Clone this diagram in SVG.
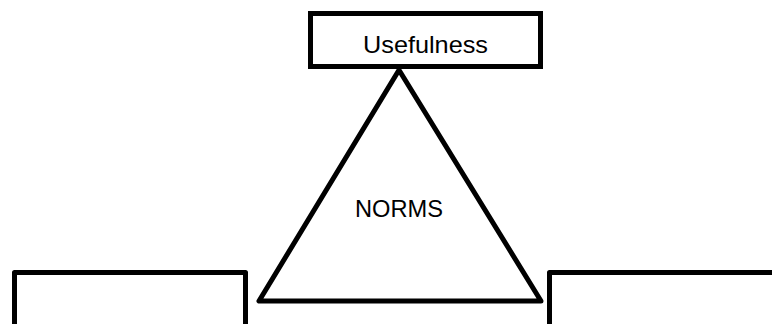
<svg xmlns="http://www.w3.org/2000/svg" width="772" height="324" viewBox="0 0 772 324">
<style>
.shape{fill:none;stroke:#000;stroke-width:5}
.lbl{font-family:"Liberation Sans",Arial,sans-serif;font-size:24px;fill:#000;text-anchor:middle}
</style>
<rect width="772" height="324" fill="#fff"/>
<g id="norms">
<polygon class="shape" points="399,70 259,301 541,301" stroke-linejoin="round"/>
<text class="lbl" x="399" y="217" textLength="88" lengthAdjust="spacingAndGlyphs">NORMS</text>
</g>
<g id="usefulness">
<rect class="shape" x="310.5" y="13.5" width="230" height="53" fill="#fff" style="fill:#fff"/>
<text class="lbl" x="425.5" y="53" textLength="125" lengthAdjust="spacingAndGlyphs">Usefulness</text>
</g>
<g id="left-box">
<path class="shape" d="M14.5,330 V272.5 H245.5 V330" stroke-linejoin="round"/>
</g>
<g id="right-box">
<path class="shape" d="M549.5,330 V272.5 H780" stroke-linejoin="round"/>
</g>
<g id="connectors"></g>
</svg>
